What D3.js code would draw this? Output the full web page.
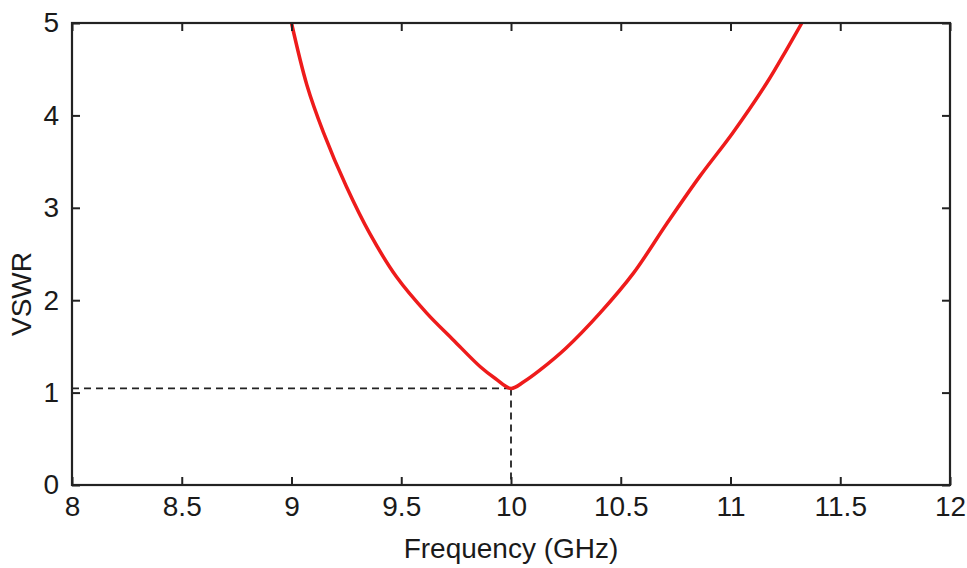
<!DOCTYPE html>
<html>
<head>
<meta charset="utf-8">
<script src="https://cdn.jsdelivr.net/npm/d3@7"></script>
<style>
  body { margin: 0; background: #fff; }
  svg { font-family: "Liberation Sans", Arial, sans-serif; }
  .tick text { font-size: 28px; fill: #1a1a1a; }
  .label { font-size: 28px; fill: #1a1a1a; }
</style>
</head>
<body>
<svg width="967" height="568"></svg>
<script>
// VSWR curve
const freq = [9.0, 9.07, 9.145, 9.25, 9.357, 9.479, 9.616, 9.737, 9.86, 9.93, 10.0,
              10.06, 10.13, 10.25, 10.405, 10.557, 10.71, 10.86, 11.01, 11.165, 11.255, 11.325];
const vswr = [5.0, 4.33, 3.82, 3.23, 2.72, 2.25, 1.86, 1.57, 1.28, 1.15, 1.045,
              1.12, 1.24, 1.48, 1.86, 2.29, 2.83, 3.34, 3.81, 4.35, 4.71, 5.0];
const xTicks = [8, 8.5, 9, 9.5, 10, 10.5, 11, 11.5, 12];
const yTicks = [0, 1, 2, 3, 4, 5];
const minPoint = { f: 10.0, v: 1.045 };

const svg = d3.select("svg");
const margin = { top: 23, right: 17, bottom: 83, left: 72 };
const width = svg.attr("width") - margin.left - margin.right;
const height = svg.attr("height") - margin.top - margin.bottom;
const g = svg.append("g").attr("transform", `translate(${margin.left},${margin.top})`);

const x = d3.scaleLinear().domain([8, 12]).range([0, width]);
const y = d3.scaleLinear().domain([0, 5]).range([height, 0]);

const data = freq.map((f, i) => ({ f: f, v: vswr[i] }));

// dashed guide lines to the minimum
g.append("line")
  .attr("x1", 0).attr("x2", x(minPoint.f))
  .attr("y1", y(minPoint.v)).attr("y2", y(minPoint.v))
  .attr("stroke", "#222").attr("stroke-width", 1.8).attr("stroke-dasharray", "7,5");
g.append("line")
  .attr("x1", x(minPoint.f)).attr("x2", x(minPoint.f))
  .attr("y1", y(minPoint.v)).attr("y2", height)
  .attr("stroke", "#222").attr("stroke-width", 1.8).attr("stroke-dasharray", "7,5");

const line = d3.line()
  .x(d => x(d.f))
  .y(d => y(d.v))
  .curve(d3.curveCatmullRom);

g.append("path")
  .datum(data)
  .attr("fill", "none")
  .attr("stroke", "#ee1b1b")
  .attr("stroke-width", 3.5)
  .attr("d", line);

// axes, ticks pointing inward on all four sides
const tickLen = 8;
const styleAxis = sel => {
  sel.select(".domain").remove();
  sel.selectAll(".tick line").attr("stroke", "#222").attr("stroke-width", 2);
};

g.append("g")
  .attr("transform", `translate(0,${height})`)
  .call(d3.axisBottom(x).tickValues(xTicks).tickFormat(d3.format("")).tickSize(-tickLen).tickPadding(11))
  .call(styleAxis);

g.append("g")
  .call(d3.axisTop(x).tickValues(xTicks).tickSize(-tickLen).tickFormat(""))
  .call(styleAxis);

g.append("g")
  .call(d3.axisLeft(y).tickValues(yTicks).tickFormat(d3.format("d")).tickSize(-tickLen).tickPadding(13))
  .call(styleAxis);

g.append("g")
  .attr("transform", `translate(${width},0)`)
  .call(d3.axisRight(y).tickValues(yTicks).tickSize(-tickLen).tickFormat(""))
  .call(styleAxis);

g.selectAll(".tick text").attr("font-family", null).attr("font-size", null);

g.append("rect")
  .attr("width", width).attr("height", height)
  .attr("fill", "none").attr("stroke", "#222").attr("stroke-width", 2.2);

svg.append("text")
  .attr("class", "label")
  .attr("x", margin.left + x(10))
  .attr("y", 558)
  .attr("text-anchor", "middle")
  .text("Frequency (GHz)");

svg.append("text")
  .attr("class", "label")
  .attr("transform", `translate(31,${margin.top + height / 2 + 40}) rotate(-90)`)
  .attr("text-anchor", "middle")
  .text("VSWR");
</script>
</body>
</html>
